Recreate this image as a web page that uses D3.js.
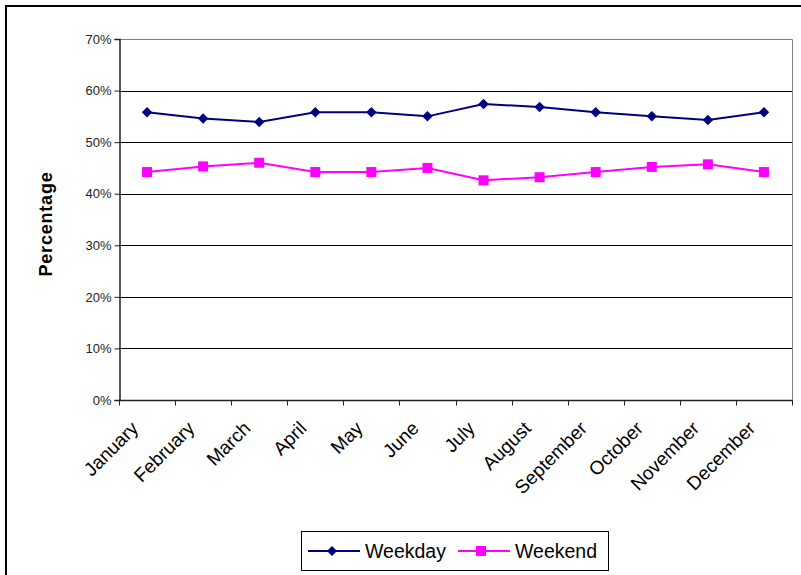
<!DOCTYPE html>
<html>
<head>
<meta charset="utf-8">
<script src="https://cdn.jsdelivr.net/npm/d3@7"></script>
<style>
  html, body { margin: 0; padding: 0; background: #fff; }
  svg { display: block; font-family: Arial, "Liberation Sans", sans-serif; }
</style>
</head>
<body>
<svg id="chart" width="801" height="575"></svg>
<script>
const months = ["January","February","March","April","May","June","July","August","September","October","November","December"];
const weekday = [55.8, 54.6, 53.9, 55.8, 55.8, 55.0, 57.4, 56.8, 55.8, 55.0, 54.3, 55.8];
const weekend = [44.2, 45.3, 46.0, 44.2, 44.2, 45.0, 42.6, 43.2, 44.2, 45.2, 45.7, 44.2];
const yTicks = [0, 10, 20, 30, 40, 50, 60, 70];
const seriesNames = ["Weekday", "Weekend"];

(function () {
const svg = d3.select("#chart");
const pLeft = 119, pRight = 792, pTop = 39, pBottom = 400;

// outer chart border
svg.append("rect").attr("x", 6).attr("y", 6).attr("width", 810).attr("height", 600)
  .attr("fill", "none").attr("stroke", "#000").attr("stroke-width", 2);

const x = d3.scaleBand().domain(months).range([pLeft, pRight]);
const y = d3.scaleLinear().domain([0, 70]).range([pBottom, pTop]);

// plot area border (top & right)
svg.append("path")
  .attr("d", `M${pLeft},${pTop + 0.5}H${pRight + 0.5}V${pBottom}`)
  .attr("fill", "none").attr("stroke", "#808080").attr("stroke-width", 1);

// gridlines
svg.append("g").selectAll("line").data(yTicks.filter(d => d > 0 && d < 70)).join("line")
  .attr("x1", pLeft).attr("x2", pRight)
  .attr("y1", d => Math.round(y(d)) + 0.5).attr("y2", d => Math.round(y(d)) + 0.5)
  .attr("stroke", "#000").attr("stroke-width", 1);

// y axis
const yAxis = d3.axisLeft(y).tickValues(yTicks).tickFormat(d => d + "%").tickSize(5).tickPadding(3);
const gy = svg.append("g").attr("transform", `translate(${pLeft + 0.5},0)`).call(yAxis);
gy.select(".domain").attr("stroke", "#222").attr("stroke-width", 1.5);
gy.selectAll(".tick line").attr("stroke", "#222");
gy.selectAll(".tick text").attr("font-size", 13).attr("fill", "#222")
  .attr("font-family", "Arial, 'Liberation Sans', sans-serif");

// x axis with ticks at band boundaries
const gx = svg.append("g").attr("transform", `translate(0,${pBottom + 0.5})`);
gx.append("line").attr("x1", pLeft).attr("x2", pRight + 1).attr("stroke", "#222").attr("stroke-width", 1.5);
const boundaries = months.map(m => x(m)).concat([pRight]);
gx.selectAll("line.tk").data(boundaries).join("line").attr("class", "tk")
  .attr("x1", d => Math.round(d) + 0.5).attr("x2", d => Math.round(d) + 0.5)
  .attr("y1", 0).attr("y2", 5).attr("stroke", "#222");
gx.selectAll("text").data(months).join("text")
  .attr("transform", m => `translate(${x(m) + x.bandwidth() / 2 - 7.5},${29}) rotate(-45)`)
  .attr("text-anchor", "end")
  .attr("font-size", 19)
  .attr("fill", "#000")
  .text(d => d);

// y axis title
svg.append("text")
  .attr("transform", `translate(52,${224}) rotate(-90)`)
  .attr("text-anchor", "middle")
  .attr("font-size", 18).attr("font-weight", "bold")
  .attr("letter-spacing", 0.8)
  .text("Percentage");

const cx = m => x(m) + x.bandwidth() / 2;
const line = d3.line().x((d, i) => cx(months[i])).y(d => y(d));

// Weekday
svg.append("path").datum(weekday).attr("d", line)
  .attr("fill", "none").attr("stroke", "#000080").attr("stroke-width", 2);
svg.append("g").selectAll("path").data(weekday).join("path")
  .attr("d", d3.symbol().type(d3.symbolSquare).size(55))
  .attr("transform", (d, i) => `translate(${cx(months[i])},${y(d)}) rotate(45)`)
  .attr("fill", "#000080");

// Weekend
svg.append("path").datum(weekend).attr("d", line)
  .attr("fill", "none").attr("stroke", "#FF00FF").attr("stroke-width", 2);
svg.append("g").selectAll("rect").data(weekend).join("rect")
  .attr("x", (d, i) => cx(months[i]) - 5).attr("y", d => y(d) - 5)
  .attr("width", 10).attr("height", 10)
  .attr("fill", "#FF00FF");

// legend
const lg = svg.append("g");
lg.append("rect").attr("x", 301.5).attr("y", 531.5).attr("width", 307).attr("height", 39)
  .attr("fill", "#fff").attr("stroke", "#000").attr("stroke-width", 1);
const legendItems = [
  { name: seriesNames[0], color: "#000080", x0: 308 },
  { name: seriesNames[1], color: "#FF00FF", x0: 458 }
];
legendItems.forEach((it, k) => {
  lg.append("line").attr("x1", it.x0).attr("x2", it.x0 + 52).attr("y1", 551).attr("y2", 551)
    .attr("stroke", it.color).attr("stroke-width", 2);
  if (k === 0) {
    lg.append("path").attr("d", d3.symbol().type(d3.symbolSquare).size(50))
      .attr("transform", `translate(${it.x0 + 24},551) rotate(45)`).attr("fill", it.color);
  } else {
    lg.append("rect").attr("x", it.x0 + 18).attr("y", 546).attr("width", 10).attr("height", 10).attr("fill", it.color);
  }
  lg.append("text").attr("x", it.x0 + 57).attr("y", 558).attr("font-size", 19.5).attr("fill", "#000").text(it.name);
});
})();
</script>
</body>
</html>
